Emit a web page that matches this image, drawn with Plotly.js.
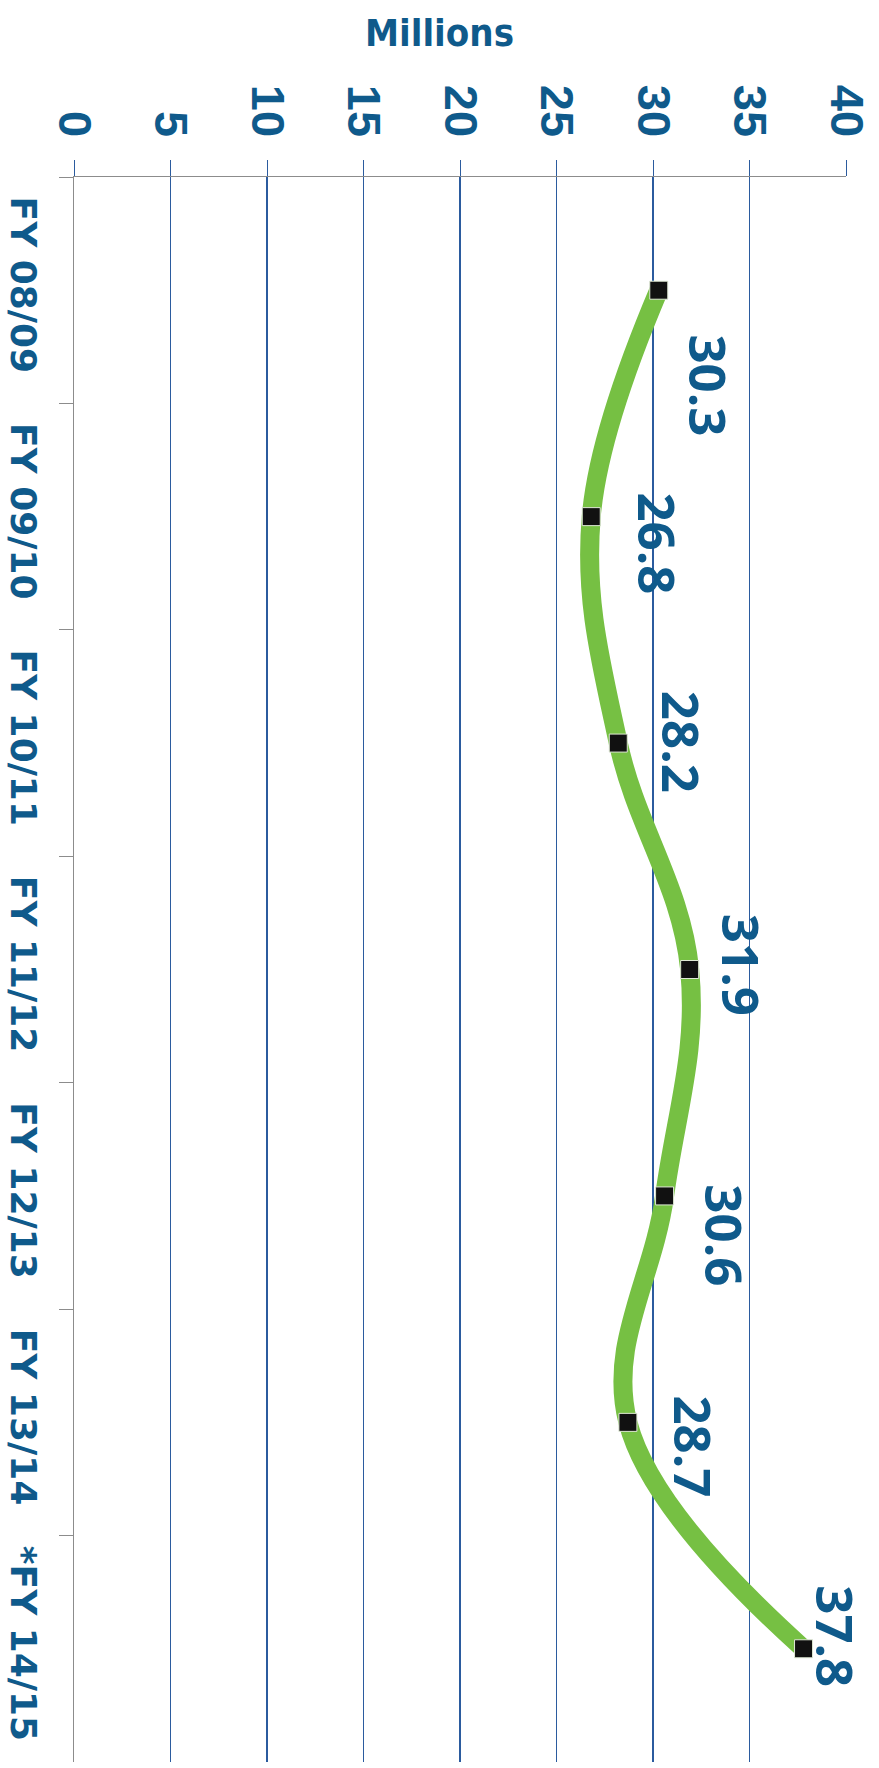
<!DOCTYPE html>
<html>
<head>
<meta charset="utf-8">
<script src="https://cdn.plot.ly/plotly-3.0.1.min.js"></script>
<style>
  html, body { margin: 0; padding: 0; background: #ffffff; }
  #chart { width: 879px; height: 1768px; }
</style>
</head>
<body>
<div id="chart"></div>
<script>
// ---- data ----
const categories = ['FY 08/09', 'FY 09/10', 'FY 10/11', 'FY 11/12', 'FY 12/13', 'FY 13/14', '*FY 14/15'];
const values = [30.3, 26.8, 28.2, 31.9, 30.6, 28.7, 37.8];
const valueTickVals = [0, 5, 10, 15, 20, 25, 30, 35, 40];
const valueTickText = ['0', '5', '10', '15', '20', '25', '30', '35', '40'];
const unitTitle = 'Millions';

// ---- style ----
const textBlue = '#0f5a8b';
const gridBlue = '#2b5b9e';
const axisGrey = '#8c8c8c';
// per-label placement (pixels, screen right / screen down)
const labelDX = [50, 67, 64, 53, 60, 66, 33];
const labelDY = [95, 27, -1, -5, 39, 24, -13];

const trace = {
  type: 'scatter',
  mode: 'lines+markers',
  x: values,
  y: categories,
  line: { color: '#76c043', width: 19, shape: 'spline', smoothing: 1.1 },
  marker: { symbol: 'square', size: 18, color: '#111111', line: { color: '#dfe9d5', width: 1 } },
  hoverinfo: 'skip',
  cliponaxis: false
};

const annotations = values.map((v, i) => ({
  x: v,
  y: categories[i],
  xref: 'x',
  yref: 'y',
  text: v.toFixed(1),
  showarrow: false,
  textangle: 90,
  xanchor: 'center',
  yanchor: 'middle',
  xshift: labelDX[i],
  yshift: -labelDY[i],
  font: { family: 'Open Sans, sans-serif', size: 51, color: textBlue, weight: 'bold' }
}));

const layout = {
  width: 879,
  height: 1768,
  paper_bgcolor: '#ffffff',
  plot_bgcolor: '#ffffff',
  margin: { l: 74, r: 33, t: 177, b: 6, pad: 0 },
  showlegend: false,
  title: {
    text: unitTitle,
    x: 0.5,
    xref: 'container',
    xanchor: 'center',
    y: 1 - 33 / 1768,
    yref: 'container',
    yanchor: 'middle',
    font: { family: 'DejaVu Sans Condensed, DejaVu Sans, sans-serif', size: 38, color: textBlue, weight: 'bold' }
  },
  xaxis: {
    side: 'top',
    range: [0, 40],
    autorange: false,
    tickmode: 'array',
    tickvals: valueTickVals,
    ticktext: valueTickText,
    tickangle: 90,
    ticks: 'outside',
    ticklen: 16,
    tickwidth: 1,
    tickcolor: gridBlue,
    ticklabelstandoff: 6,
    tickfont: { family: 'Liberation Sans, Arial, sans-serif', size: 47, color: textBlue, weight: 'bold' },
    showgrid: true,
    gridcolor: gridBlue,
    gridwidth: 1.2,
    zeroline: false,
    showline: true,
    linecolor: axisGrey,
    linewidth: 1.5,
    fixedrange: true
  },
  yaxis: {
    type: 'category',
    categoryorder: 'array',
    categoryarray: categories,
    range: [6.5, -0.5],
    autorange: false,
    tickson: 'boundaries',
    ticks: 'outside',
    ticklen: 14,
    tickwidth: 1,
    tickcolor: axisGrey,
    tickangle: 90,
    ticklabelstandoff: 18,
    tickfont: { family: 'DejaVu Sans, sans-serif', size: 36, color: textBlue, weight: 'bold' },
    showgrid: false,
    zeroline: false,
    showline: true,
    linecolor: axisGrey,
    linewidth: 1.5,
    fixedrange: true
  },
  annotations: annotations
};

Plotly.newPlot('chart', [trace], layout, { displayModeBar: false, staticPlot: true });
</script>
</body>
</html>
